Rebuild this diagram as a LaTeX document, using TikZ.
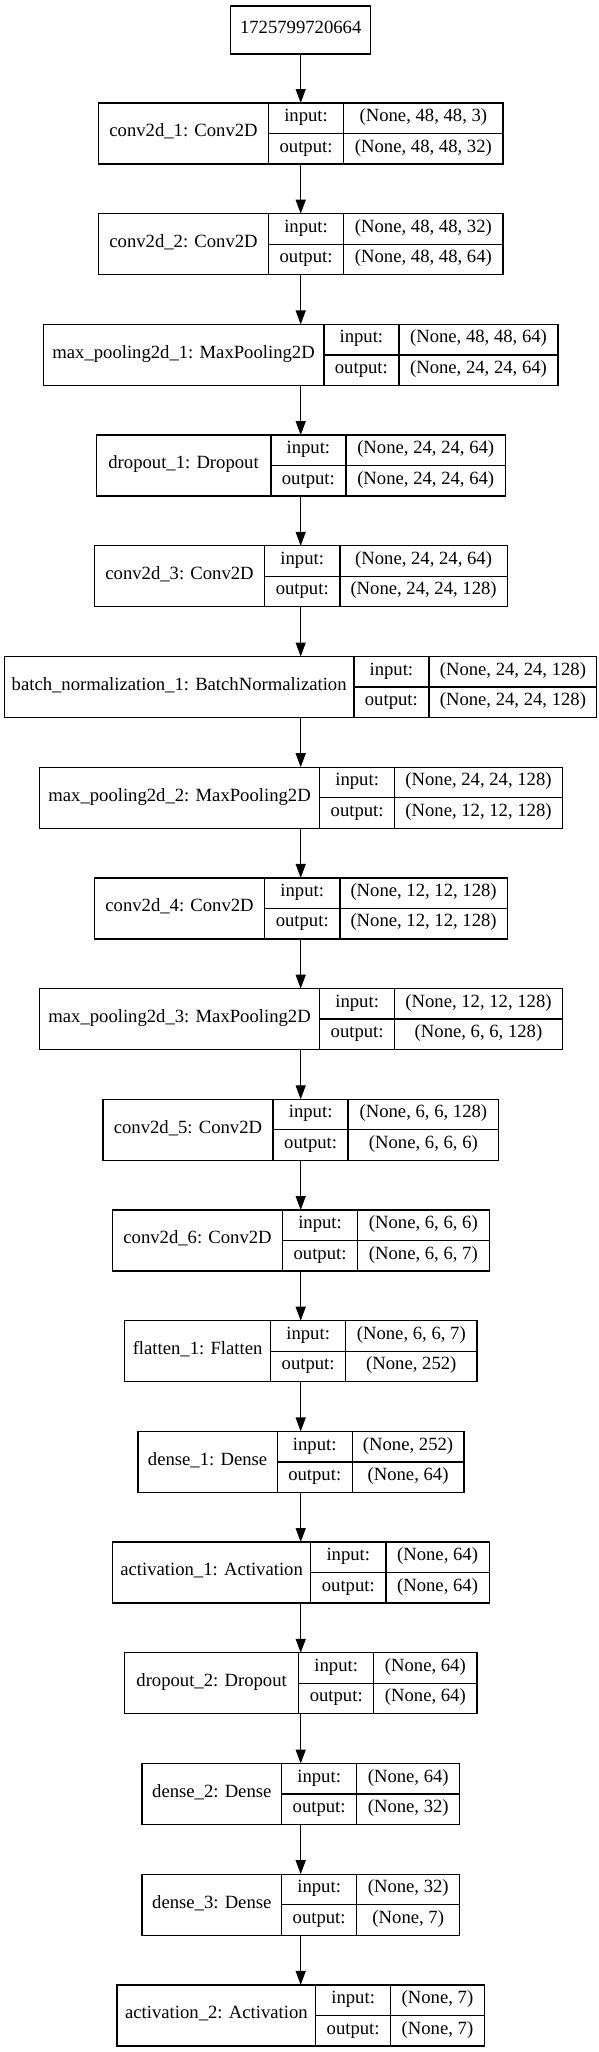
\documentclass[tikz,border=0pt]{standalone}
\usepackage{fontspec}
\setmainfont{Liberation Serif}
\usetikzlibrary{arrows.meta}
\tikzset{
  cell/.style={draw=black, line width=1pt, rectangle, inner sep=0pt, outer sep=0pt,
    font=\fontsize{14pt}{16pt}\selectfont, text height=0.75em, text depth=0.25em, align=center},
  frame/.style={draw=none, rectangle, inner sep=0pt, outer sep=0pt},
  arr/.style={draw=black, line width=1pt, -{Triangle[length=10.5pt, width=7.5pt]}}
}
\newcommand{\lay}[8]{%
  \pgfmathsetmacro{\yt}{103+(#1-1)*110.7}%
  \pgfmathsetmacro{\wl}{(#3-#2)*0.75}%
  \pgfmathsetmacro{\wv}{(#5-#4)*0.75}%
  \pgfmathsetmacro{\wa}{(#5-#2)*0.75}%
  \node[frame, minimum width=\wa pt, minimum height=45.75pt] (L#1) at ({(#2+#5)/2},{\yt+30.5}) {};
  \node[cell, minimum width=\wl pt, minimum height=45.75pt] (L#1n) at ({(#2+#3)/2},{\yt+30.5}) {#6};
  \node[cell, minimum width=56.25pt, minimum height=22.875pt] (L#1i) at ({(#3+#4)/2},{\yt+15.25}) {input:};
  \node[cell, minimum width=56.25pt, minimum height=22.875pt] (L#1o) at ({(#3+#4)/2},{\yt+45.75}) {output:};
  \node[cell, minimum width=\wv pt, minimum height=22.875pt] (L#1iv) at ({(#4+#5)/2},{\yt+15.25}) {#7};
  \node[cell, minimum width=\wv pt, minimum height=22.875pt] (L#1ov) at ({(#4+#5)/2},{\yt+45.75}) {#8};
}
\begin{document}
\begin{tikzpicture}[x=0.75pt, y=-0.75pt]
\useasboundingbox (0,0) rectangle (599,2052);
\fill[white] (0,0) rectangle (599,2052);
\coordinate (ax) at (300.7,0);
\node[cell, minimum width=104.85pt, minimum height=36pt] (T) at (300.7,30) {1725799720664};
\lay{1}{98.7}{268.4}{343.7}{503.1}{conv2d\_1: Conv2D}{(None, 48, 48, 3)}{(None, 48, 48, 32)}
\lay{2}{98.7}{268.4}{343.7}{503.1}{conv2d\_2: Conv2D}{(None, 48, 48, 32)}{(None, 48, 48, 64)}
\lay{3}{43.4}{323.7}{399.0}{558.0}{max\_pooling2d\_1: MaxPooling2D}{(None, 48, 48, 64)}{(None, 24, 24, 64)}
\lay{4}{96.4}{270.7}{346.0}{505.4}{dropout\_1: Dropout}{(None, 24, 24, 64)}{(None, 24, 24, 64)}
\lay{5}{94.5}{264.6}{339.9}{507.3}{conv2d\_3: Conv2D}{(None, 24, 24, 64)}{(None, 24, 24, 128)}
\lay{6}{4.6}{353.7}{429.0}{596.8}{batch\_normalization\_1: BatchNormalization}{(None, 24, 24, 128)}{(None, 24, 24, 128)}
\lay{7}{39.6}{319.5}{394.8}{562.2}{max\_pooling2d\_2: MaxPooling2D}{(None, 24, 24, 128)}{(None, 12, 12, 128)}
\lay{8}{94.5}{264.6}{339.9}{507.3}{conv2d\_4: Conv2D}{(None, 12, 12, 128)}{(None, 12, 12, 128)}
\lay{9}{39.6}{319.5}{394.8}{562.2}{max\_pooling2d\_3: MaxPooling2D}{(None, 12, 12, 128)}{(None, 6, 6, 128)}
\lay{10}{102.9}{273.0}{348.3}{498.5}{conv2d\_5: Conv2D}{(None, 6, 6, 128)}{(None, 6, 6, 6)}
\lay{11}{112.5}{282.6}{357.5}{489.2}{conv2d\_6: Conv2D}{(None, 6, 6, 6)}{(None, 6, 6, 7)}
\lay{12}{124.4}{270.7}{345.6}{477.0}{flatten\_1: Flatten}{(None, 6, 6, 7)}{(None, 252)}
\lay{13}{137.9}{277.3}{352.2}{463.9}{dense\_1: Dense}{(None, 252)}{(None, 64)}
\lay{14}{112.5}{310.7}{385.9}{489.2}{activation\_1: Activation}{(None, 64)}{(None, 64)}
\lay{15}{124.4}{298.8}{373.7}{477.0}{dropout\_2: Dropout}{(None, 64)}{(None, 64)}
\lay{16}{142.1}{281.5}{356.8}{459.7}{dense\_2: Dense}{(None, 64)}{(None, 32)}
\lay{17}{142.1}{281.5}{356.8}{459.7}{dense\_3: Dense}{(None, 32)}{(None, 7)}
\lay{18}{117.1}{315.7}{390.6}{484.3}{activation\_2: Activation}{(None, 7)}{(None, 7)}
\draw[arr] (T.south -| ax) -- (L1.north -| ax);
\foreach \a/\b in {1/2,2/3,3/4,4/5,5/6,6/7,7/8,8/9,9/10,10/11,11/12,12/13,13/14,14/15,15/16,16/17,17/18}{
  \draw[arr] (L\a.south -| ax) -- (L\b.north -| ax);
}
\end{tikzpicture}
\end{document}
